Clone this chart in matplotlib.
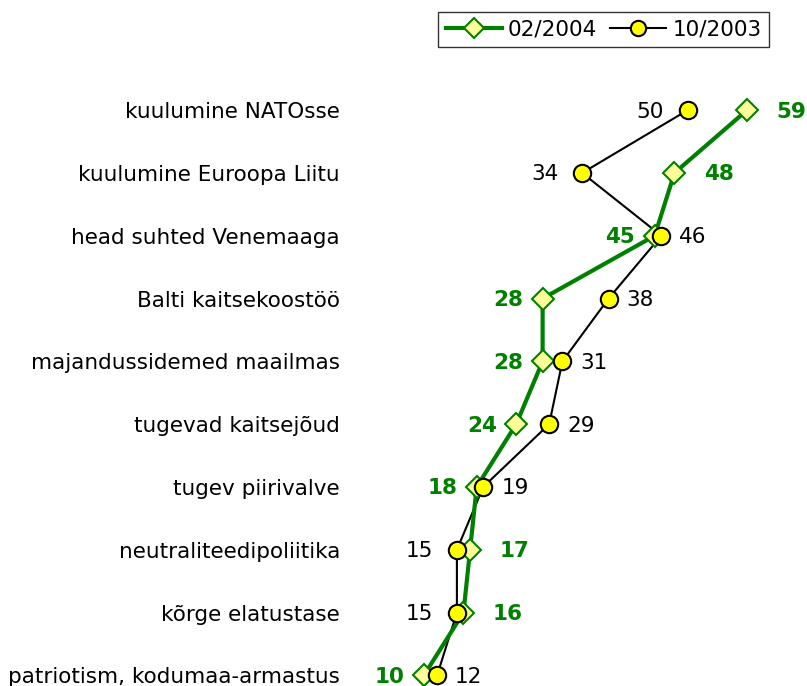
import matplotlib.pyplot as plt
from matplotlib.lines import Line2D

categories = ["kuulumine NATOsse", "kuulumine Euroopa Liitu", "head suhted Venemaaga",
              "Balti kaitsekoostöö", "majandussidemed maailmas", "tugevad kaitsejõud",
              "tugev piirivalve", "neutraliteedipoliitika", "kõrge elatustase",
              "patriotism, kodumaa-armastus"]
feb2004 = [59, 48, 45, 28, 28, 24, 18, 17, 16, 10]
oct2003 = [50, 34, 46, 38, 31, 29, 19, 15, 15, 12]

# which side the value labels go on
green_side = ["r", "r", "l", "l", "l", "l", "l", "r", "r", "l"]
black_side = ["l", "l", "r", "r", "r", "r", "r", "l", "l", "r"]

green = "#008000"
rows = list(range(len(categories)))
fs = 15.5

fig = plt.figure(figsize=(8.07, 6.86), dpi=100)
ax = fig.add_axes([358 / 807, 0, 449 / 807, 606 / 686])

ax.plot(feb2004, rows, color=green, lw=3, marker="D", ms=11, mfc="#ffff99",
        mec=green, mew=1.5, zorder=3)
ax.plot(oct2003, rows, color="black", lw=1.5, zorder=2)
ax.plot(oct2003, rows, ls="none", marker="o", ms=12.5, mfc="#ffff00",
        mec="black", mew=1.5, zorder=5)

for r, v, s in zip(rows, feb2004, green_side):
    if s == "r":
        ax.annotate(str(v), (v, r), xytext=(21, -1), textcoords="offset points",
                    ha="left", va="center", color=green, fontsize=fs, fontweight="bold")
    else:
        ax.annotate(str(v), (v, r), xytext=(-14, -1), textcoords="offset points",
                    ha="right", va="center", color=green, fontsize=fs, fontweight="bold")
for r, v, s in zip(rows, oct2003, black_side):
    if s == "r":
        ax.annotate(str(v), (v, r), xytext=(13, -1), textcoords="offset points",
                    ha="left", va="center", color="black", fontsize=fs)
    else:
        ax.annotate(str(v), (v, r), xytext=(-17, -1), textcoords="offset points",
                    ha="right", va="center", color="black", fontsize=fs)

ax.set_xlim(0, 68.1)
ax.set_ylim(9.17, -0.48)
ax.set_yticks(rows)
ax.set_yticklabels(categories, fontsize=fs)
ax.tick_params(axis="y", length=0, pad=13)
ax.set_xticks([])
for sp in ax.spines.values():
    sp.set_visible(False)

handles = [Line2D([], [], color=green, lw=3, marker="D", ms=10, mfc="#ffff99", mec=green, mew=1.5),
           Line2D([], [], color="black", lw=1.5, marker="o", ms=11, mfc="#ffff00", mec="black", mew=1.5)]
fig.legend(handles, ["02/2004", "10/2003"], loc="upper left", bbox_to_anchor=(438 / 807, 1 - 12 / 686),
           ncol=2, fontsize=fs, frameon=True, fancybox=False, edgecolor="black",
           handlelength=2.6, handletextpad=0.3, columnspacing=0.6, borderpad=0.35,
           borderaxespad=0)

fig.savefig("out.png", dpi=100)
